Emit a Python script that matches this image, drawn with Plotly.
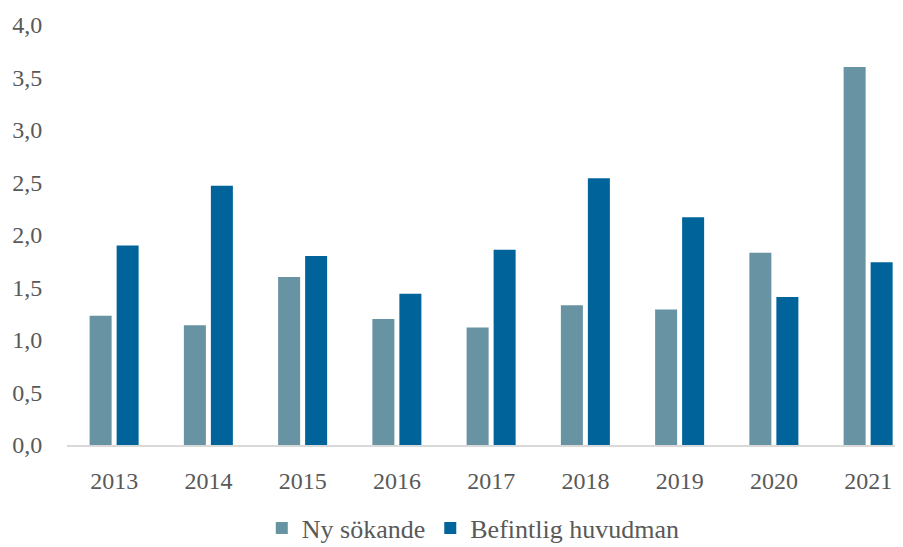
import plotly.graph_objects as go

years = ["2013", "2014", "2015", "2016", "2017", "2018", "2019", "2020", "2021"]
ny_sokande = [1.23, 1.14, 1.60, 1.20, 1.12, 1.33, 1.29, 1.83, 3.60]
befintlig = [1.90, 2.47, 1.80, 1.44, 1.86, 2.54, 2.17, 1.41, 1.74]
y_ticks = [0.0, 0.5, 1.0, 1.5, 2.0, 2.5, 3.0, 3.5, 4.0]

FONT = "Liberation Serif, Times New Roman, serif"
GREY = "#595959"

fig = go.Figure()
fig.add_trace(go.Bar(x=years, y=ny_sokande, name="Ny sökande",
                     marker=dict(color="#6893a3", line=dict(width=0))))
fig.add_trace(go.Bar(x=years, y=befintlig, name="Befintlig huvudman",
                     marker=dict(color="#00649b", line=dict(width=0))))

# page body has an 8px margin, so the figure is 8px smaller than the window
fig.update_layout(
    width=895, height=539,
    margin=dict(l=59, r=0, t=17, b=102, autoexpand=False),
    paper_bgcolor="white", plot_bgcolor="white",
    barmode="group", bargap=0.427, bargroupgap=0.185,
    separators=", ",
    font=dict(family=FONT, color=GREY, size=24),
    showlegend=True,
    legend=dict(orientation="h", x=0.486, xanchor="center", y=-0.1976, yanchor="middle",
                font=dict(family=FONT, size=26, color=GREY), itemwidth=30,
                bgcolor="rgba(0,0,0,0)"),
    hovermode=False,
)
fig.update_xaxes(type="category", range=[-0.5, 8.37], showgrid=False, showline=True,
                 linecolor="#d9d9d9", linewidth=2, ticks="outside", ticklen=13,
                 tickcolor="rgba(0,0,0,0)", automargin=False,
                 tickfont=dict(family=FONT, size=24, color=GREY))
fig.update_yaxes(range=[0, 4.0], tickvals=y_ticks, tickformat=".1f", showgrid=False,
                 showline=False, zeroline=False, ticks="outside", ticklen=19,
                 tickcolor="rgba(0,0,0,0)", automargin=False,
                 tickfont=dict(family=FONT, size=24, color=GREY))

fig.write_html("out.html")
